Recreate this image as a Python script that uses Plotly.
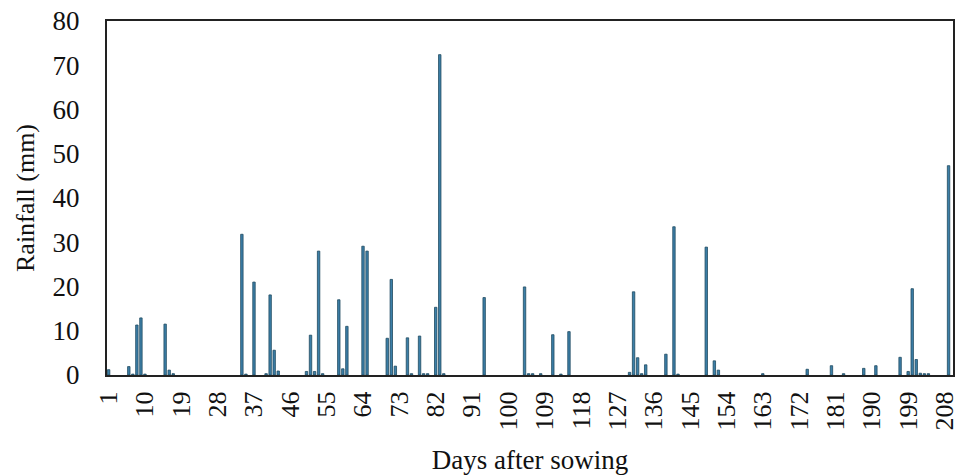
import plotly.graph_objects as go

# Days after sowing with recorded rainfall (other days = 0 mm)
rain_days = [1, 6, 7, 8, 9, 10, 15, 16, 17, 34, 35, 37, 40, 41, 42, 43,
             50, 51, 52, 53, 54, 58, 59, 60, 64, 65, 70, 71, 72, 75, 76,
             78, 79, 80, 82, 83, 84, 94, 104, 105, 106, 108, 111, 113, 115,
             130, 131, 132, 133, 134, 139, 141, 142, 149, 151, 152, 163,
             174, 180, 183, 188, 191, 197, 199, 200, 201, 202, 203, 204, 209]
rain_mm = [1.2, 1.9, 0.2, 11.3, 12.9, 0.2, 11.5, 1.1, 0.3, 31.8, 0.2, 21.0, 0.3, 18.1, 5.6, 0.9,
           0.8, 9.0, 0.8, 28.0, 0.3, 17.0, 1.4, 11.0, 29.1, 28.0, 8.3, 21.6, 2.0, 8.4, 0.3,
           8.8, 0.3, 0.3, 15.3, 72.4, 0.3, 17.5, 19.9, 0.3, 0.3, 0.3, 9.1, 0.2, 9.8,
           0.6, 18.8, 3.9, 0.3, 2.3, 4.7, 33.5, 0.2, 28.9, 3.2, 1.1, 0.3,
           1.3, 2.1, 0.3, 1.5, 2.1, 4.0, 0.8, 19.5, 3.5, 0.4, 0.3, 0.3, 47.3]

x_tick_vals = [1, 10, 19, 28, 37, 46, 55, 64, 73, 82, 91, 100, 109, 118,
               127, 136, 145, 154, 163, 172, 181, 190, 199, 208]
x_tick_text = [str(v) for v in x_tick_vals]
y_tick_vals = [0, 10, 20, 30, 40, 50, 60, 70, 80]

fig = go.Figure(go.Bar(
    x=rain_days, y=rain_mm, width=0.6,
    marker=dict(color="#3c7fa8", line=dict(color="#1f4a60", width=0.8)),
))

font_family = "Liberation Serif"
fig.update_layout(
    width=957, height=475,
    margin=dict(l=107, r=4, t=21, b=100),
    paper_bgcolor="white", plot_bgcolor="white",
    showlegend=False,
    font=dict(family=font_family, size=26, color="#111"),
)
fig.update_xaxes(
    range=[0.6, 210.1], tickmode="array", tickvals=x_tick_vals, ticktext=x_tick_text,
    tickangle=-90, showgrid=False, zeroline=False,
    showline=True, linecolor="#222", linewidth=2, mirror=True,
    ticks="outside", ticklen=4, tickcolor="rgba(0,0,0,0)",
    ticklabeloverflow="allow",
    tickfont=dict(size=26, family=font_family),
    title=dict(text="Days after sowing", font=dict(size=27, family=font_family), standoff=22),
    automargin=False,
)
fig.update_yaxes(
    range=[0, 80], tickmode="array", tickvals=y_tick_vals,
    showgrid=False, zeroline=False,
    showline=True, linecolor="#222", linewidth=2, mirror=True,
    ticks="outside", ticklen=20, tickcolor="rgba(0,0,0,0)",
    tickfont=dict(size=27, family=font_family),
    title=dict(text="Rainfall (mm)", font=dict(size=26, family=font_family), standoff=10),
    automargin=False,
)

fig.write_html(
    "out.html",
    config={"displayModeBar": False},
    post_script="document.body.style.margin='0';document.body.style.overflow='hidden';",
)
